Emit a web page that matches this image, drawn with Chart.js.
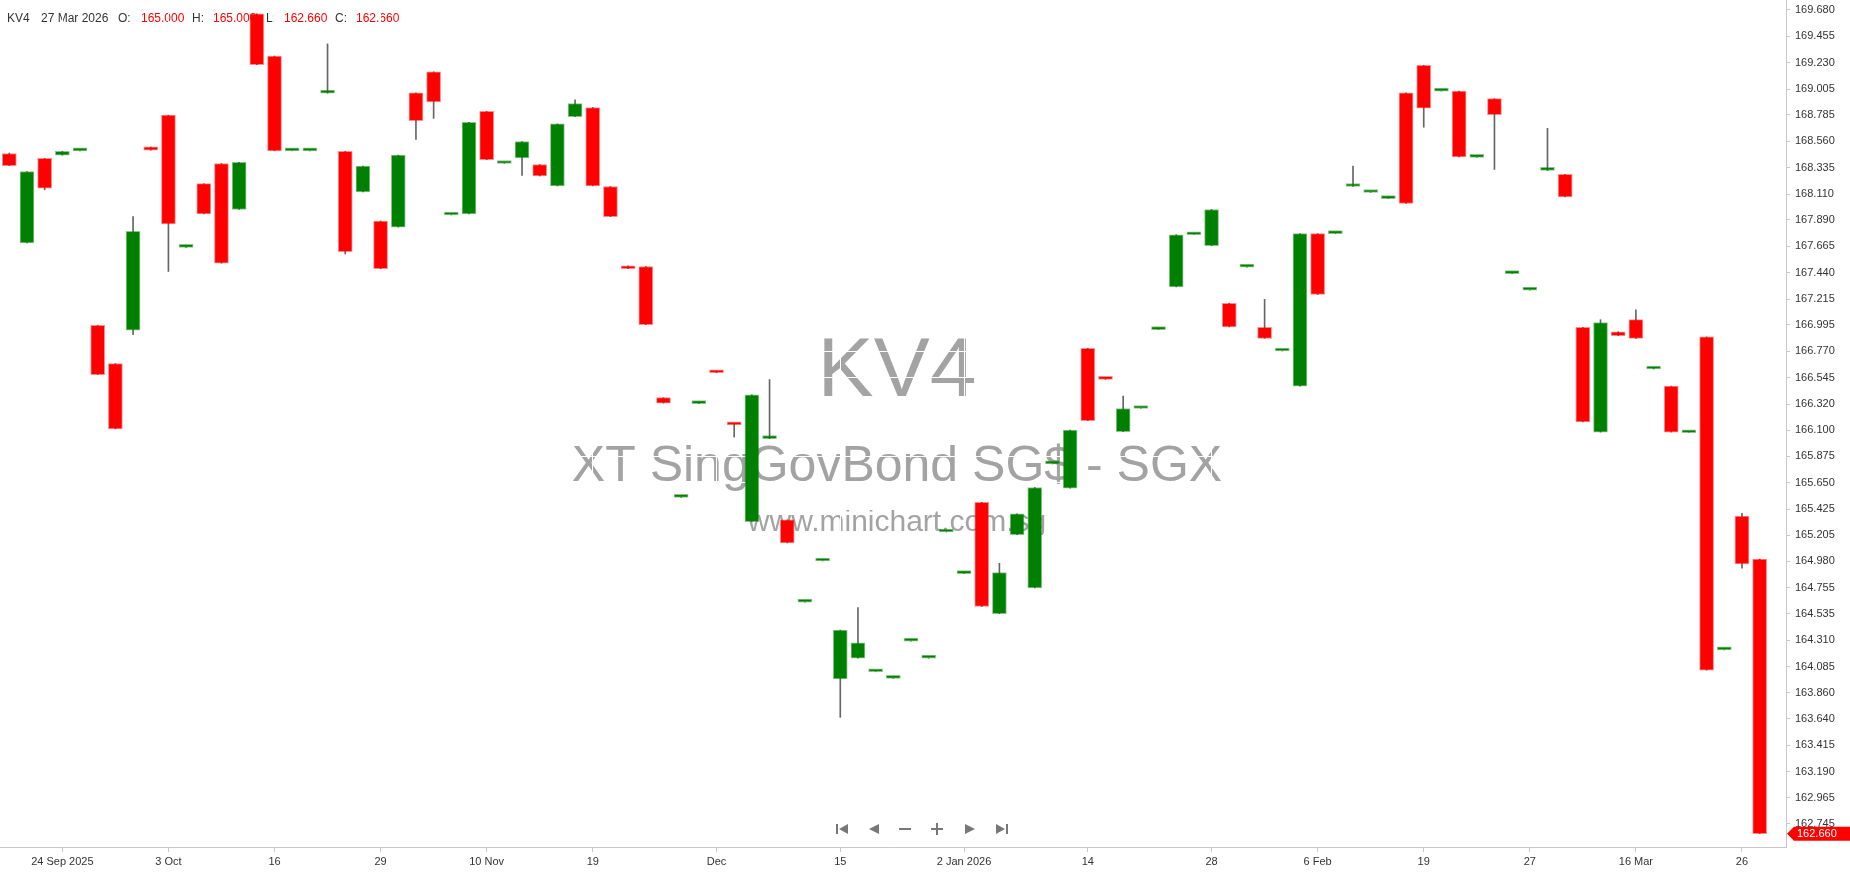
<!DOCTYPE html>
<html>
<head>
<meta charset="utf-8">
<title>KV4</title>
<script src="https://cdn.jsdelivr.net/npm/chart.js@4.4.1/dist/chart.umd.min.js"></script>
<style>
  html, body { margin: 0; padding: 0; background: #fff; overflow: hidden; }
  canvas { display: block; }
</style>
</head>
<body>
<canvas id="kv4" width="1850" height="874"></canvas>
<script>
// daily candles, oldest first
const openPx = [
  168.456, 167.694, 168.414, 168.442, 168.479, 166.993, 166.666, 166.951, 168.512, 168.783,
  167.656, 168.199, 168.371, 167.979, 169.647, 169.287, 168.479, 168.479, 168.970, 168.474,
  168.128, 167.881, 167.829, 168.974, 169.152, 167.932, 167.942, 168.815, 168.371, 168.418,
  168.362, 168.180, 168.769, 168.848, 168.175, 167.498, 167.493, 166.376, 165.526, 166.325,
  166.594, 166.150, 165.320, 166.026, 165.334, 164.633, 164.984, 163.979, 164.156, 164.040,
  163.984, 164.301, 164.156, 165.231, 164.876, 165.484, 164.535, 165.208, 164.755, 165.811,
  165.605, 166.797, 166.538, 166.086, 166.283, 166.956, 167.320, 167.764, 167.670, 167.180,
  167.488, 166.974, 166.773, 166.474, 167.773, 167.773, 168.175, 168.124, 168.072, 168.974,
  169.208, 168.988, 168.988, 168.423, 168.923, 167.432, 167.292, 168.311, 168.278, 166.974,
  166.082, 166.937, 167.040, 166.620, 166.474, 166.077, 166.895, 164.226, 165.367, 165.000
];
const highPx = [
  168.460, 168.301, 168.414, 168.474, 168.479, 166.993, 166.666, 167.918, 168.512, 168.783,
  167.656, 168.199, 168.371, 168.381, 169.647, 169.287, 168.479, 168.479, 169.390, 168.474,
  168.348, 167.881, 168.442, 168.974, 169.152, 167.932, 168.722, 168.815, 168.371, 168.558,
  168.362, 168.708, 168.914, 168.848, 168.175, 167.498, 167.493, 166.376, 165.526, 166.325,
  166.594, 166.150, 166.399, 166.530, 165.334, 164.633, 164.984, 164.395, 164.586, 164.040,
  163.984, 164.301, 164.156, 165.231, 164.876, 165.484, 164.965, 165.385, 165.610, 165.811,
  166.100, 166.797, 166.538, 166.390, 166.283, 166.956, 167.764, 167.764, 167.979, 167.180,
  167.488, 167.213, 166.773, 167.773, 167.773, 167.773, 168.348, 168.124, 168.072, 168.974,
  169.208, 168.988, 168.988, 168.423, 168.923, 167.432, 167.292, 168.671, 168.278, 166.974,
  167.040, 166.937, 167.124, 166.628, 166.474, 166.077, 166.895, 164.226, 165.390, 165.000
];
const lowPx = [
  168.353, 167.694, 168.147, 168.442, 168.479, 166.572, 166.110, 166.913, 168.484, 167.451,
  167.656, 167.942, 167.521, 167.979, 169.213, 168.479, 168.479, 168.479, 168.970, 167.600,
  168.128, 167.474, 167.829, 168.577, 168.755, 167.932, 167.942, 168.404, 168.371, 168.269,
  168.264, 168.180, 168.769, 168.180, 167.918, 167.474, 166.998, 166.329, 165.526, 166.325,
  166.588, 166.040, 165.320, 166.026, 165.138, 164.633, 164.984, 163.652, 164.156, 164.040,
  163.984, 164.301, 164.156, 165.231, 164.876, 164.596, 164.535, 165.208, 164.755, 165.811,
  165.605, 166.180, 166.532, 166.086, 166.283, 166.956, 167.320, 167.764, 167.670, 166.979,
  167.488, 166.881, 166.773, 166.474, 167.255, 167.773, 168.175, 168.124, 168.072, 168.030,
  168.680, 168.988, 168.428, 168.423, 168.320, 167.432, 167.292, 168.311, 168.086, 166.170,
  166.082, 166.904, 166.881, 166.620, 166.082, 166.077, 164.054, 164.226, 164.923, 162.660
];
const closePx = [
  168.353, 168.301, 168.161, 168.474, 168.479, 166.572, 166.110, 167.792, 168.484, 167.857,
  167.656, 167.942, 167.521, 168.381, 169.213, 168.479, 168.479, 168.479, 168.970, 167.619,
  168.348, 167.474, 168.442, 168.736, 168.895, 167.932, 168.722, 168.404, 168.371, 168.558,
  168.264, 168.708, 168.881, 168.180, 167.918, 167.474, 166.998, 166.329, 165.526, 166.325,
  166.588, 166.144, 166.399, 166.026, 165.138, 164.633, 164.984, 164.395, 164.287, 164.040,
  163.984, 164.301, 164.156, 165.231, 164.876, 164.596, 164.885, 165.385, 165.610, 165.811,
  166.100, 166.180, 166.532, 166.283, 166.283, 166.956, 167.764, 167.764, 167.979, 166.979,
  167.488, 166.881, 166.773, 167.773, 167.255, 167.773, 168.175, 168.124, 168.072, 168.030,
  168.843, 168.988, 168.428, 168.423, 168.787, 167.432, 167.292, 168.339, 168.086, 166.170,
  167.016, 166.904, 166.881, 166.628, 166.082, 166.077, 164.054, 164.226, 164.960, 162.660
];

// x axis labels sit on these candle numbers
const dateTickIdx = [3, 9, 15, 21, 27, 33, 40, 47, 54, 61, 68, 74, 80, 86, 92, 98];
const dateTickText = ['24 Sep 2025', '3 Oct', '16', '29', '10 Nov', '19', 'Dec', '15',
  '2 Jan 2026', '14', '28', '6 Feb', '19', '27', '16 Mar', '26'];

const priceTicks = [
  169.680, 169.455, 169.230, 169.005, 168.785, 168.560, 168.335, 168.110, 167.890, 167.665,
  167.440, 167.215, 166.995, 166.770, 166.545, 166.320, 166.100, 165.875, 165.650, 165.425,
  165.205, 164.980, 164.755, 164.535, 164.310, 164.085, 163.860, 163.640, 163.415, 163.190,
  162.965, 162.745
];

const lastDate = '27 Mar 2026';
const UP = '#008000', DOWN = '#ff0000';

const last = openPx.length - 1;
const isDown = openPx.map((o, i) => closePx[i] < o);

const bodies = openPx.map((o, i) => ({ x: i, y: [o, closePx[i]] }));
const wicks = lowPx.map((l, i) => ({ x: i, y: [l, highPx[i]] }));

function backdrop(chart) {
  const ctx = chart.ctx;
  ctx.save();
  ctx.fillStyle = '#fff';
  ctx.fillRect(0, 0, chart.width, chart.height);

  // watermark
  ctx.fillStyle = '#a3a3a3';
  ctx.textAlign = 'center';
  ctx.textBaseline = 'alphabetic';
  ctx.font = '84px "Liberation Sans", Arial, sans-serif';
  ctx.fillText('KV4', 897, 396);
  ctx.font = '50px "Liberation Sans", Arial, sans-serif';
  ctx.fillText('XT SingGovBond SG$ - SGX', 897, 481);
  ctx.font = '30px "Liberation Sans", Arial, sans-serif';
  ctx.fillText('www.minichart.com.sg', 897, 531);

  // OHLC read-out of the last bar
  const val = v => v.toFixed(3);
  const bits = [
    ['KV4', 7, '#333'], [lastDate, 41, '#333'],
    ['O:', 118, '#333'], [val(openPx[last]), 141, DOWN],
    ['H:', 192, '#333'], [val(highPx[last]), 213, DOWN],
    ['L:', 266, '#333'], [val(lowPx[last]), 284, DOWN],
    ['C:', 335, '#333'], [val(closePx[last]), 356, DOWN]
  ];
  ctx.textAlign = 'left';
  ctx.font = '12px "Liberation Sans", Arial, sans-serif';
  bits.forEach(b => { ctx.fillStyle = b[2]; ctx.fillText(b[0], b[1], 22); });
  ctx.restore();
}

function tri(ctx, x0, x1, cy, h) {
  ctx.beginPath();
  ctx.moveTo(x0, cy);
  ctx.lineTo(x1, cy - h / 2);
  ctx.lineTo(x1, cy + h / 2);
  ctx.closePath();
  ctx.fill();
}

function overlay(chart) {
  const ctx = chart.ctx;
  const y = chart.scales.y;
  ctx.save();

  // navigation buttons
  const cy = 829;
  ctx.fillStyle = '#777';
  ctx.fillRect(836, cy - 5, 2, 10); tri(ctx, 839, 848, cy, 10);
  tri(ctx, 869, 879, cy, 10);
  ctx.fillRect(899, cy - 1, 12, 2);
  ctx.fillRect(931, cy - 1, 12, 2); ctx.fillRect(936, cy - 6, 2, 12);
  tri(ctx, 975, 965, cy, 10);
  tri(ctx, 1005, 996, cy, 10); ctx.fillRect(1006, cy - 5, 2, 10);

  // last price tag
  const py = y.getPixelForValue(closePx[last]);
  ctx.fillStyle = DOWN;
  ctx.beginPath();
  ctx.moveTo(1787, py);
  ctx.lineTo(1794, py - 7);
  ctx.lineTo(1850, py - 7);
  ctx.lineTo(1850, py + 7);
  ctx.lineTo(1794, py + 7);
  ctx.closePath();
  ctx.fill();
  ctx.fillStyle = '#fff';
  ctx.font = '11px "Liberation Sans", Arial, sans-serif';
  ctx.textBaseline = 'middle';
  ctx.fillText(closePx[last].toFixed(3), 1797, py + 0.5);
  ctx.restore();
}

new Chart(document.getElementById('kv4'), {
  type: 'bar',
  data: {
    datasets: [
      {
        label: 'wick',
        data: wicks,
        grouped: false,
        order: 2,
        barThickness: 1,
        backgroundColor: '#666',
        borderWidth: 0
      },
      {
        label: 'KV4',
        data: bodies,
        grouped: false,
        order: 1,
        barThickness: 14,
        minBarLength: 3,
        backgroundColor: isDown.map(d => d ? DOWN : UP),
        borderColor: isDown.map(d => d ? 'rgba(255,0,0,0.45)' : 'rgba(0,128,0,0.45)'),
        borderWidth: 1,
        borderSkipped: false
      }
    ]
  },
  options: {
    responsive: false,
    animation: false,
    events: [],
    layout: { padding: 0 },
    plugins: { legend: { display: false }, tooltip: { enabled: false } },
    scales: {
      x: {
        type: 'linear',
        min: -0.526,
        max: 100.49,
        offset: false,
        afterBuildTicks: s => { s.ticks = dateTickIdx.map(v => ({ value: v })); },
        afterFit: s => { s.height = 27; s.paddingLeft = 0; s.paddingRight = 0; },
        grid: { offset: false, color: '#fff', tickColor: '#c8c8c8', tickLength: 5 },
        border: { color: '#c8c8c8' },
        ticks: {
          autoSkip: false,
          maxRotation: 0,
          padding: 3,
          color: '#333',
          font: { family: '"Liberation Sans", Arial, sans-serif', size: 11 },
          callback: (v, i) => dateTickText[i]
        }
      },
      y: {
        position: 'right',
        min: 162.547,
        max: 169.764,
        beginAtZero: false,
        afterBuildTicks: s => { s.ticks = priceTicks.map(v => ({ value: v })); },
        afterFit: s => { s.width = 64; s.paddingTop = 0; s.paddingBottom = 0; },
        grid: { color: '#fff', tickColor: '#c8c8c8', tickLength: 4 },
        border: { color: '#c8c8c8' },
        ticks: {
          autoSkip: false,
          padding: 5,
          color: '#333',
          font: { family: '"Liberation Sans", Arial, sans-serif', size: 11 },
          callback: v => v.toFixed(3)
        }
      }
    }
  },
  plugins: [{ id: 'decor', beforeDraw: backdrop, afterDraw: overlay }]
});
</script>
</body>
</html>
